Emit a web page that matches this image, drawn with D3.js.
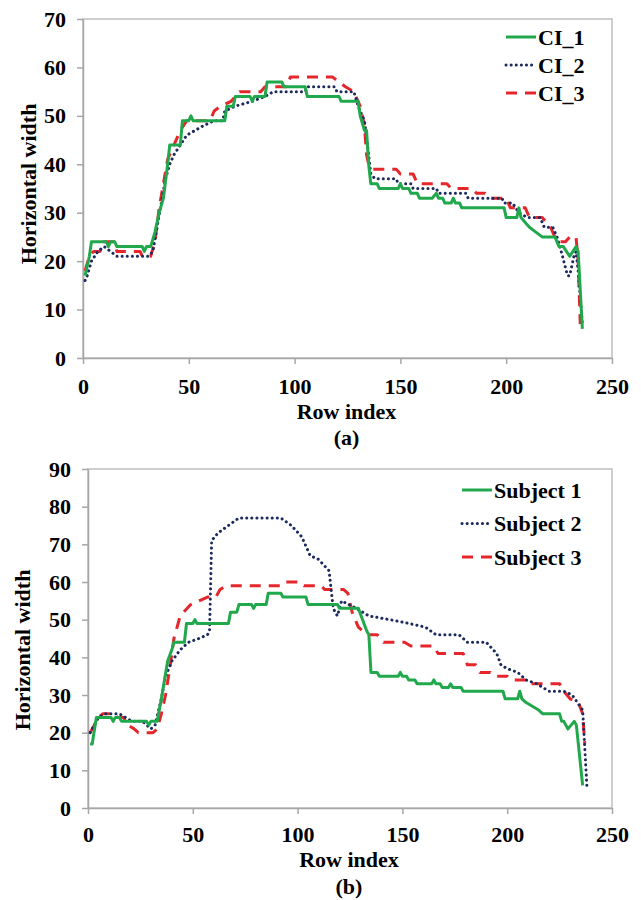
<!DOCTYPE html>
<html>
<head>
<meta charset="utf-8">
<script src="https://cdn.jsdelivr.net/npm/d3@7"></script>
<style>
  body { margin: 0; background: #fff; }
  text { font-family: "Liberation Serif", "Times New Roman", serif; font-weight: bold; fill: #000; }
  .axis path, .axis line { stroke: #a6a6a6; }
  .axis text { font-size: 22px; }
</style>
</head>
<body>
<div id="chart"></div>
<script>
// x ticks shared by both panels
var xTicks = [0, 50, 100, 150, 200, 250];
var yTicksA = [0, 10, 20, 30, 40, 50, 60, 70];
var yTicksB = [0, 10, 20, 30, 40, 50, 60, 70, 80, 90];

// panel (a) : [row index, horizontal width]
var ci1 = [[1,17],[3,21],[4,24],[11,24],[12,23],[13,24],[15,24],[16,23],[28,23],[29,22],[30,23],[32,23],[34,26],[36,30],[38,33],[40,40],[41,44],[46,44],[47,49],[50,49],[51,50],[52,49],[67,49],[68,52],[71,52],[72,54],[79,54],[80,53],[81,54],[86,54],[87,57],[94,57],[95,56],[105,56],[106,54],[121,54],[122,53],[130,53],[131,50],[133,47],[134,47],[135,40],[136,36],[139,36],[140,35],[149,35],[150,36],[151,35],[154,35],[155,34],[158,34],[159,33],[165,33],[167,34],[168,33],[170,33],[171,32],[174,32],[175,33],[176,32],[178,32],[179,31],[199,31],[200,29],[205,29],[206,31],[207,29],[209,28],[211,27],[214,26],[217,25],[223,25],[225,23],[227,23],[230,21],[233,23],[234,22],[236,6]];
var ci2 = [[1,16],[2,17],[4,20],[7,22],[10,23],[13,22],[16,21],[31,21],[33,22],[35,27],[37,32],[39,37],[41,40],[43,42],[46,44],[49,46],[53,47],[57,48],[62,49],[66,49],[67,51],[72,52],[80,53],[86,54],[90,55],[105,55],[106,56],[119,56],[120,55],[128,55],[130,52],[133,49],[135,42],[136,38],[138,37],[148,37],[149,36],[155,36],[156,35],[167,35],[168,34],[181,34],[182,33],[198,33],[199,32],[203,32],[206,30],[210,29],[216,29],[218,27],[222,27],[224,25],[226,22],[229,17],[230,17],[232,21],[233,22],[234,18],[236,7]];
var ci3 = [[1,18],[3,21],[5,22],[8,22],[10,24],[15,24],[16,22],[27,22],[28,21],[32,21],[34,24],[36,31],[38,36],[40,41],[43,44],[46,47],[49,49],[60,49],[62,51],[65,52],[70,53],[74,55],[84,55],[86,56],[96,56],[98,58],[118,58],[121,57],[124,56],[128,55],[131,52],[133,48],[134,42],[135,40],[137,39],[148,39],[150,38],[156,38],[158,36],[172,36],[174,35],[184,35],[186,34],[190,34],[192,33],[200,33],[202,31],[209,31],[211,29],[217,29],[219,28],[221,27],[223,25],[225,24],[228,24],[230,25],[233,25],[234,20],[235,7]];

// panel (b)
var subject1 = [[1,17],[2,17],[4,24],[11,24],[12,23],[13,24],[15,24],[16,23],[28,23],[29,22],[30,23],[33,23],[35,29],[38,39],[40,42],[41,44],[46,44],[47,49],[50,49],[51,50],[52,49],[67,49],[68,52],[71,52],[72,54],[78,54],[79,53],[80,54],[85,54],[86,57],[92,57],[93,56],[104,56],[105,54],[119,54],[120,53],[129,53],[131,50],[133,47],[134,46],[135,36],[138,36],[139,35],[148,35],[149,36],[150,35],[152,35],[153,34],[156,34],[157,33],[164,33],[165,34],[166,33],[168,33],[169,32],[172,32],[173,33],[174,32],[178,32],[179,31],[198,31],[199,29],[205,29],[206,31],[207,29],[209,28],[212,27],[215,26],[217,25],[225,25],[226,23],[227,23],[229,21],[232,23],[233,22],[236,6]];
var subject2 = [[1,20],[3,22],[5,24],[8,25],[15,25],[18,24],[21,23],[26,23],[28,22],[30,21],[32,22],[35,29],[37,35],[40,39],[44,42],[48,44],[53,45],[57,46],[58,47],[59,71],[62,73],[67,75],[72,77],[92,77],[97,75],[102,72],[106,67],[110,66],[115,63],[116,58],[117,53],[119,51],[121,55],[128,53],[134,51],[144,50],[153,49],[161,48],[166,46],[177,46],[181,44],[190,44],[195,41],[197,38],[200,37],[205,36],[209,34],[214,33],[220,31],[227,31],[231,30],[236,26],[238,6]];
var subject3 = [[1,20],[3,22],[5,24],[7,25],[13,25],[14,24],[17,24],[19,22],[22,21],[24,20],[31,20],[33,21],[35,25],[37,30],[39,37],[41,45],[44,51],[49,54],[53,55],[57,56],[61,56],[63,58],[66,59],[92,59],[94,60],[101,60],[103,59],[111,59],[113,58],[122,58],[124,57],[126,52],[129,48],[133,46],[138,46],[141,44],[151,44],[154,43],[165,43],[167,41],[179,41],[181,38],[185,38],[187,36],[192,36],[194,35],[200,35],[202,34],[210,34],[211,33],[225,33],[227,31],[230,29],[234,28],[236,25],[237,17]];

var namesA = ["CI_1", "CI_2", "CI_3"];
var namesB = ["Subject 1", "Subject 2", "Subject 3"];

var styles = [
  { color: "#22a84c", dash: null, cap: "butt" },
  { color: "#1c2a5e", dash: "0.1,5", cap: "round" },
  { color: "#e5262b", dash: "11,8", cap: "butt" }
];

var svg = d3.select("#chart").append("svg")
    .attr("width", 641)
    .attr("height", 900);

function drawPanel(p) {
  var x = d3.scaleLinear().domain([0, 250]).range([p.left, p.right]);
  var y = d3.scaleLinear().domain([0, p.ymax]).range([p.bottom, p.top]);
  var g = svg.append("g");

  // plot frame
  g.append("rect")
    .attr("x", p.left).attr("y", p.top)
    .attr("width", p.right - p.left).attr("height", p.bottom - p.top)
    .attr("fill", "none").attr("stroke", "#bfbfbf").attr("stroke-width", 1.5);

  g.append("g").attr("class", "axis")
    .attr("transform", "translate(" + p.left + ",0)")
    .call(d3.axisLeft(y).tickValues(p.yTicks).tickSize(6).tickSizeOuter(0).tickPadding(11))
    .call(function(a) { a.selectAll("path, line").attr("stroke-width", 1.5); });

  g.append("g").attr("class", "axis")
    .attr("transform", "translate(0," + p.bottom + ")")
    .call(d3.axisBottom(x).tickValues(xTicks).tickSize(6).tickSizeOuter(0).tickPadding(p.xPad))
    .call(function(a) { a.selectAll("path, line").attr("stroke-width", 1.5); });

  var line = d3.line().x(function(d) { return x(d[0]); }).y(function(d) { return y(d[1]); });

  // draw red first, then blue, green on top
  [2, 1, 0].forEach(function(i) {
    g.append("path")
      .datum(p.series[i])
      .attr("fill", "none")
      .attr("stroke", styles[i].color)
      .attr("stroke-width", 3)
      .attr("stroke-linecap", styles[i].cap)
      .attr("stroke-linejoin", "round")
      .attr("stroke-dasharray", styles[i].dash)
      .attr("d", line);
  });

  // axis titles
  g.append("text")
    .attr("transform", "translate(" + p.yTitleX + "," + p.yTitleY + ") rotate(-90)")
    .attr("text-anchor", "middle")
    .style("font-size", "22px")
    .text("Horizontal width");
  g.append("text")
    .attr("x", (p.left + p.right) / 2 - 1).attr("y", p.xTitleY)
    .attr("text-anchor", "middle")
    .style("font-size", "22px")
    .text("Row index");
  g.append("text")
    .attr("x", (p.left + p.right) / 2 - 1).attr("y", p.tagY)
    .attr("text-anchor", "middle")
    .style("font-size", "22px")
    .text(p.tag);

  // legend
  var leg = g.append("g");
  p.names.forEach(function(n, i) {
    var ly = p.legY + i * p.legStep;
    leg.append("line")
      .attr("x1", p.legX).attr("x2", p.legX + 30)
      .attr("y1", ly).attr("y2", ly)
      .attr("stroke", styles[i].color)
      .attr("stroke-width", 3)
      .attr("stroke-linecap", styles[i].cap)
      .attr("stroke-dasharray", styles[i].dash);
    leg.append("text")
      .attr("x", p.legX + 32).attr("y", ly)
      .attr("dy", "0.35em")
      .style("font-size", "22px")
      .text(n);
  });
}

drawPanel({
  left: 83, right: 612, top: 19, bottom: 358, ymax: 70, yTicks: yTicksA, xPad: 14,
  series: [ci1, ci2, ci3], names: namesA,
  yTitleX: 36, yTitleY: 184, xTitleY: 419, tagY: 445, tag: "(a)",
  legX: 506, legY: 37, legStep: 28
});

drawPanel({
  left: 88, right: 612, top: 469, bottom: 808, ymax: 90, yTicks: yTicksB, xPad: 12,
  series: [subject1, subject2, subject3], names: namesB,
  yTitleX: 30, yTitleY: 650, xTitleY: 867, tagY: 894, tag: "(b)",
  legX: 462, legY: 490, legStep: 33.5
});
</script>
</body>
</html>
